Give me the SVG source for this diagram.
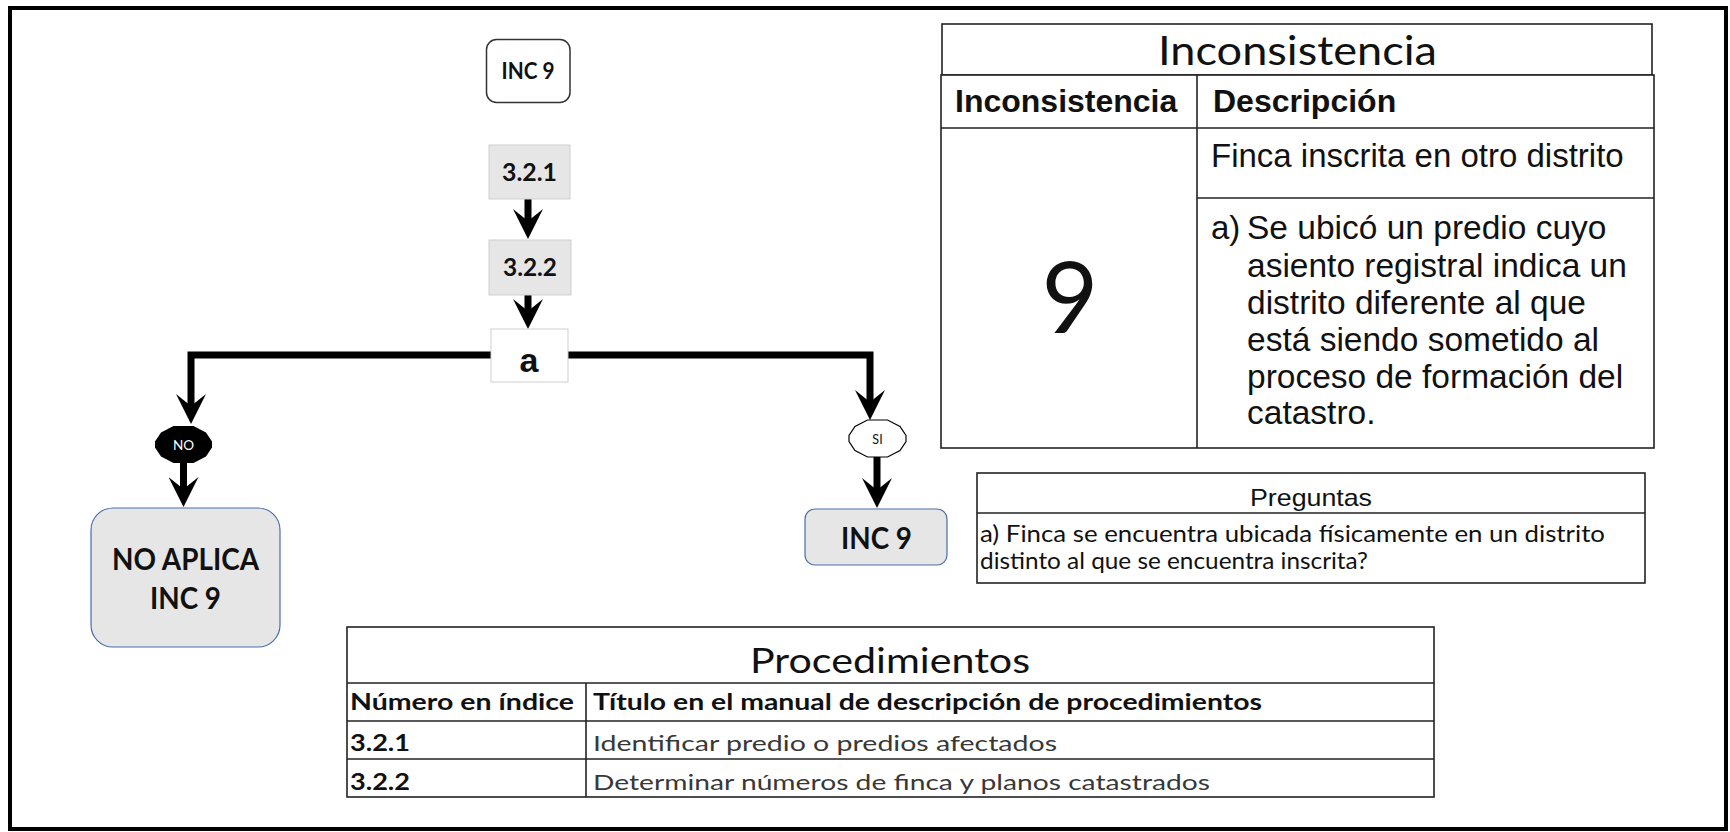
<svg xmlns="http://www.w3.org/2000/svg" width="1730" height="832" viewBox="0 0 1730 832">
<style>
.lbl{font-family:Lato,"Liberation Sans",sans-serif;font-weight:bold;fill:#111;text-anchor:middle}
.ar{font-family:"Liberation Sans",Arial,sans-serif;fill:#111}
.cal{font-family:Lato,"Liberation Sans",sans-serif;fill:#111}
.conn{fill:none;stroke:#000;stroke-width:7;stroke-linejoin:miter}
.tbl{fill:#fff;stroke:#222;stroke-width:1.6}
.ln{stroke:#222;stroke-width:1.6}
</style>
<defs>
<marker id="ah" viewBox="0 0 30 30" refX="16" refY="15" markerWidth="30" markerHeight="30" markerUnits="userSpaceOnUse" orient="auto">
<path d="M30,15 L0,0 L12,15 L0,30 Z" fill="#000"/>
</marker>
</defs>
<rect x="10" y="8" width="1716" height="821" fill="#fff" stroke="#000" stroke-width="4"/>

<g id="connectors">
<line class="conn" x1="528" y1="199" x2="528" y2="225" marker-end="url(#ah)"/>
<line class="conn" x1="528" y1="295" x2="528" y2="315" marker-end="url(#ah)"/>
<path class="conn" d="M491,355 H191 V410" marker-end="url(#ah)"/>
<path class="conn" d="M568,355 H870 V406" marker-end="url(#ah)"/>
<line class="conn" x1="183.5" y1="463" x2="183.5" y2="493" marker-end="url(#ah)"/>
<line class="conn" x1="877" y1="457" x2="877" y2="494" marker-end="url(#ah)"/>
</g>

<g id="n-start">
<rect x="486.5" y="39.5" width="83.5" height="63" rx="10" fill="#fff" stroke="#333" stroke-width="1.5"/>
<text class="lbl" x="528" y="79" font-size="23" textLength="53" lengthAdjust="spacingAndGlyphs">INC 9</text>
</g>
<g id="n-321">
<rect x="489" y="145" width="81" height="54" fill="#e6e6e6" stroke="#cfcfcf" stroke-width="1"/>
<text class="lbl" x="529.5" y="181" font-size="25" textLength="55" lengthAdjust="spacingAndGlyphs">3.2.1</text>
</g>
<g id="n-322">
<rect x="489" y="240" width="82" height="55" fill="#e6e6e6" stroke="#cfcfcf" stroke-width="1"/>
<text class="lbl" x="530" y="276" font-size="25" textLength="54" lengthAdjust="spacingAndGlyphs">3.2.2</text>
</g>
<g id="n-a">
<rect x="491" y="329" width="77" height="53" fill="#fff" stroke="#cfcfcf" stroke-width="1"/>
<text class="ar" x="529" y="372" font-size="34" font-weight="bold" text-anchor="middle">a</text>
</g>
<g id="n-no">
<polygon points="173.5,426 193.5,426 206,432.5 212,441.5 212,447.5 206,456.5 193.5,463 173.5,463 161,456.5 155,447.5 155,441.5 161,432.5" fill="#000"/>
<text x="183.5" y="450" font-family="Lato,'Liberation Sans',sans-serif" font-size="13.5" fill="#fff" text-anchor="middle">NO</text>
</g>
<g id="n-si">
<polygon points="867.5,420 887.5,420 900,426.5 906,435.5 906,441.5 900,450.5 887.5,457 867.5,457 855,450.5 849,441.5 849,435.5 855,426.5" fill="#fff" stroke="#000" stroke-width="1.2"/>
<text x="877.5" y="444" font-family="Lato,'Liberation Sans',sans-serif" font-size="12.5" fill="#111" text-anchor="middle">SI</text>
</g>
<g id="n-noaplica">
<rect x="91" y="508" width="189" height="139" rx="22" fill="#e6e6e6" stroke="#4a6ea8" stroke-width="1.2"/>
<text class="lbl" x="185.5" y="570" font-size="31" textLength="147" lengthAdjust="spacingAndGlyphs">NO APLICA</text>
<text class="lbl" x="185.5" y="609" font-size="31" textLength="71" lengthAdjust="spacingAndGlyphs">INC 9</text>
</g>
<g id="n-inc9">
<rect x="805" y="509" width="142" height="56" rx="10" fill="#e6e6e6" stroke="#4a6ea8" stroke-width="1.2"/>
<text class="lbl" x="876.5" y="549" font-size="31" textLength="71" lengthAdjust="spacingAndGlyphs">INC 9</text>
</g>

<g id="t-inconsistencia">
<rect class="tbl" x="942" y="24" width="710" height="51" stroke-width="2"/>
<text class="cal" x="1297.5" y="65" font-size="41" text-anchor="middle" textLength="279" lengthAdjust="spacingAndGlyphs">Inconsistencia</text>
<rect class="tbl" x="941" y="75" width="713" height="373"/>
<line class="ln" x1="941" y1="128" x2="1654" y2="128"/>
<line class="ln" x1="1197" y1="198" x2="1654" y2="198"/>
<line class="ln" x1="1197" y1="75" x2="1197" y2="448"/>
<text class="ar" x="955" y="112" font-size="32" font-weight="bold">Inconsistencia</text>
<text class="ar" x="1213" y="112" font-size="32" font-weight="bold">Descripción</text>
<text class="cal" x="1070" y="333" font-size="98" text-anchor="middle">9</text>
<text class="ar" x="1211" y="167" font-size="33">Finca inscrita en otro distrito</text>
<text class="ar" x="1211" y="239" font-size="33">a)</text>
<text class="ar" font-size="33.5">
<tspan x="1247" y="239">Se ubicó un predio cuyo</tspan>
<tspan x="1247" y="277">asiento registral indica un</tspan>
<tspan x="1247" y="314">distrito diferente al que</tspan>
<tspan x="1247" y="351">está siendo sometido al</tspan>
<tspan x="1247" y="388">proceso de formación del</tspan>
<tspan x="1247" y="424">catastro.</tspan>
</text>
</g>

<g id="t-preguntas">
<rect class="tbl" x="977" y="473" width="668" height="110"/>
<line class="ln" x1="977" y1="513" x2="1645" y2="513"/>
<text class="ar" x="1311" y="506" font-size="24" text-anchor="middle" textLength="122" lengthAdjust="spacingAndGlyphs">Preguntas</text>
<text class="cal" x="980" y="542" font-size="24" textLength="625" lengthAdjust="spacingAndGlyphs">a) Finca se encuentra ubicada físicamente en un distrito</text>
<text class="cal" x="980" y="569" font-size="24" textLength="388" lengthAdjust="spacingAndGlyphs">distinto al que se encuentra inscrita?</text>
</g>

<g id="t-procedimientos">
<rect class="tbl" x="347" y="627" width="1087" height="170"/>
<line class="ln" x1="347" y1="683" x2="1434" y2="683" stroke-width="2.2"/>
<line class="ln" x1="347" y1="721" x2="1434" y2="721"/>
<line class="ln" x1="347" y1="759" x2="1434" y2="759"/>
<line class="ln" x1="586" y1="683" x2="586" y2="797"/>
<text class="cal" x="890" y="673" font-size="34" text-anchor="middle" textLength="280" lengthAdjust="spacingAndGlyphs">Procedimientos</text>
<text class="cal" x="350" y="710" font-size="22" font-weight="bold" textLength="224" lengthAdjust="spacingAndGlyphs">Número en índice</text>
<text class="cal" x="593" y="710" font-size="22" font-weight="bold" textLength="669" lengthAdjust="spacingAndGlyphs">Título en el manual de descripción de procedimientos</text>
<text class="cal" x="350" y="751" font-size="22" font-weight="bold" textLength="60" lengthAdjust="spacingAndGlyphs">3.2.1</text>
<text class="cal" x="593" y="751" font-size="22" textLength="464" lengthAdjust="spacingAndGlyphs" style="fill:#383838">Identificar predio o predios afectados</text>
<text class="cal" x="350" y="790" font-size="22" font-weight="bold" textLength="60" lengthAdjust="spacingAndGlyphs">3.2.2</text>
<text class="cal" x="593" y="790" font-size="22" textLength="617" lengthAdjust="spacingAndGlyphs" style="fill:#383838">Determinar números de finca y planos catastrados</text>
</g>
</svg>
